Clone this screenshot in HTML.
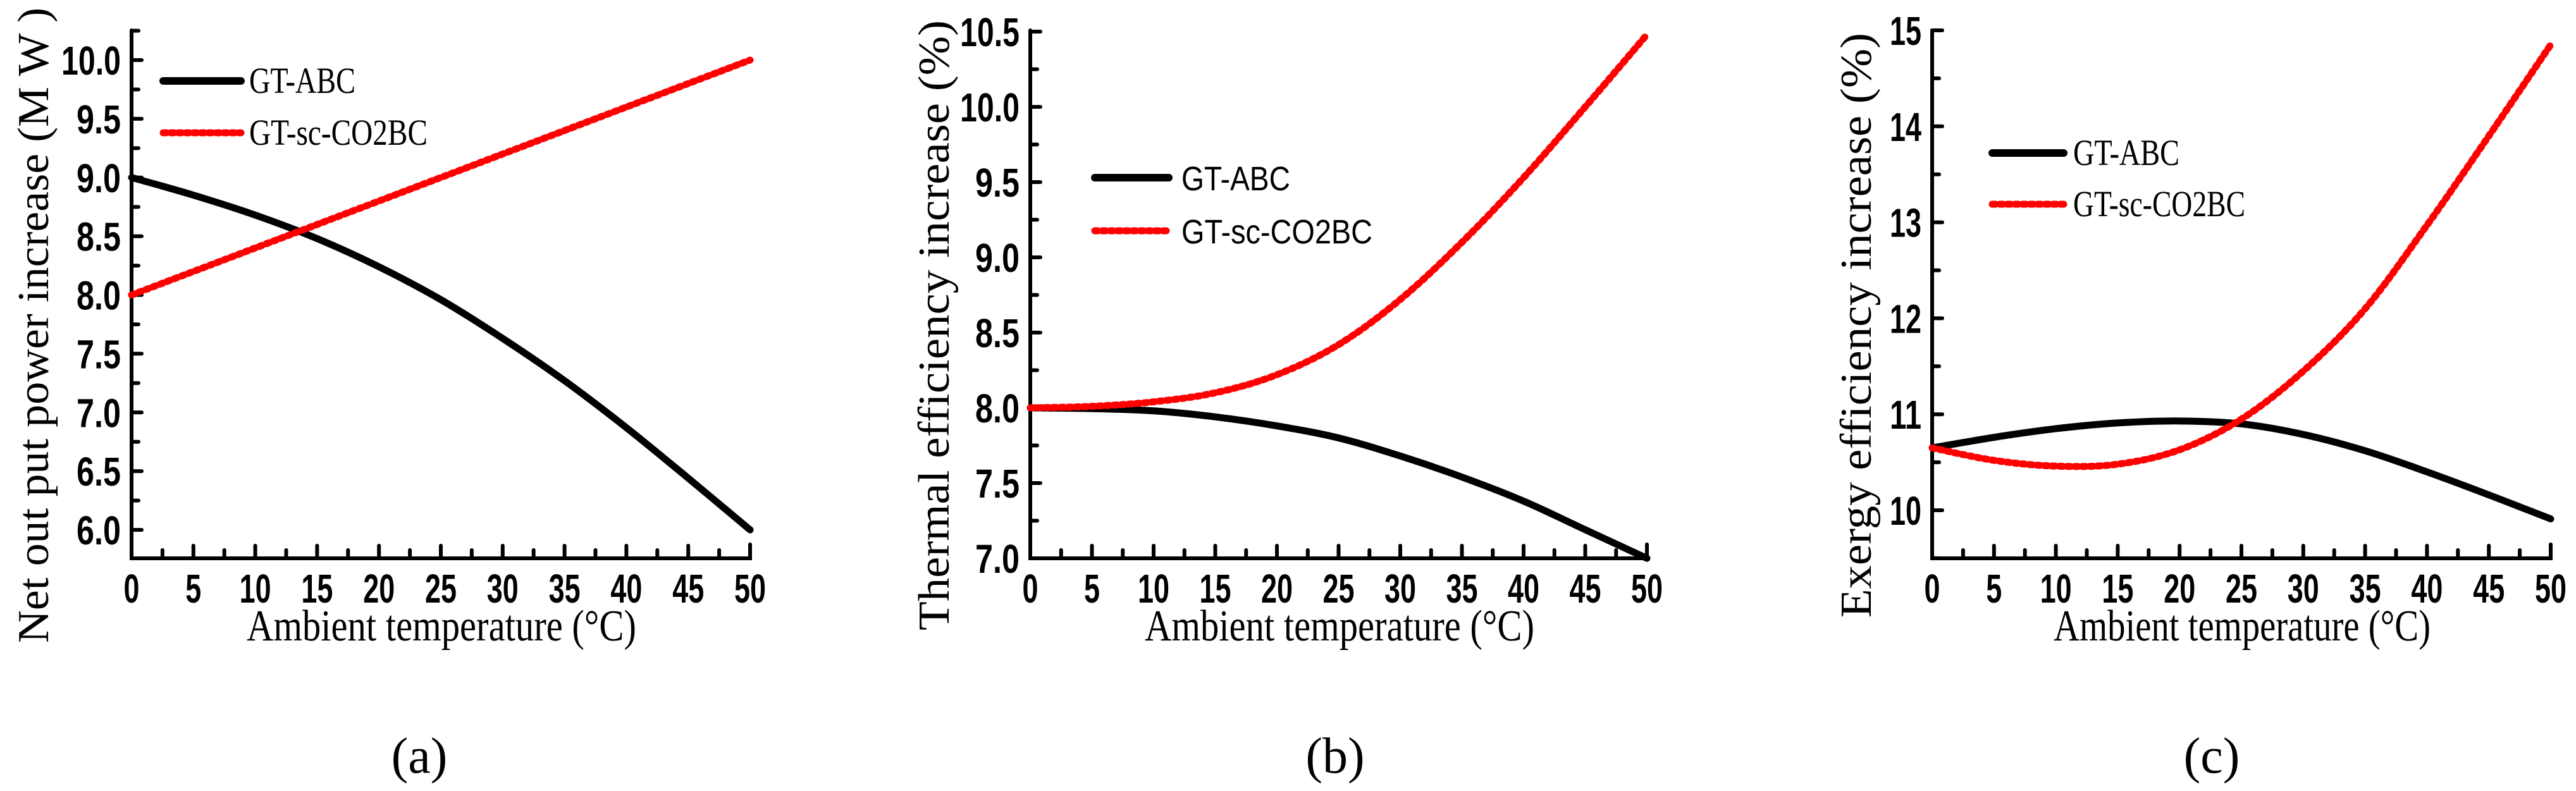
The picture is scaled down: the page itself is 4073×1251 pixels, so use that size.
<!DOCTYPE html>
<html><head><meta charset="utf-8"><style>
html,body{margin:0;padding:0;background:#fff;}
svg{display:block;}
</style></head><body>
<svg id="fig" xmlns="http://www.w3.org/2000/svg" width="4073" height="1251" viewBox="0 0 4073 1251"></svg>
<script>
// ---- data ----
const temps = [0,5,10,15,20,25,30,35,40,45,50];
const powerABC = [9.0,8.85,8.68,8.48,8.24,7.96,7.63,7.27,6.87,6.44,6.0];
const powerSC = [8.0,8.2,8.4,8.6,8.8,9.0,9.2,9.4,9.6,9.8,10.0];
const thermABC = [8.0,7.995,7.98,7.94,7.88,7.80,7.68,7.54,7.38,7.19,7.0];
const thermSC = [8.0,8.01,8.04,8.10,8.22,8.42,8.72,9.10,9.53,10.0,10.48];
const exergyABC = [10.65,10.76,10.85,10.91,10.93,10.90,10.79,10.62,10.40,10.16,9.91];
const exergySC = [10.65,10.52,10.46,10.48,10.63,10.95,11.45,12.10,12.97,13.90,14.85];
const xTicks = [0,5,10,15,20,25,30,35,40,45,50];
const yTicksA = ["6.0","6.5","7.0","7.5","8.0","8.5","9.0","9.5","10.0"];
const yTicksB = ["7.0","7.5","8.0","8.5","9.0","9.5","10.0","10.5"];
const yTicksC = ["10","11","12","13","14","15"];

const NS="http://www.w3.org/2000/svg";
const svg=document.getElementById('fig');
function mk(tag,attrs,parent){const e=document.createElementNS(NS,tag);for(const k in attrs)e.setAttribute(k,attrs[k]);(parent||svg).appendChild(e);return e;}

function smoothPath(pts){
  let d=`M${pts[0][0]},${pts[0][1]}`;
  for(let i=0;i<pts.length-1;i++){
    const p0=pts[Math.max(i-1,0)],p1=pts[i],p2=pts[i+1],p3=pts[Math.min(i+2,pts.length-1)];
    const c1=[p1[0]+(p2[0]-p0[0])/6,p1[1]+(p2[1]-p0[1])/6];
    const c2=[p2[0]-(p3[0]-p1[0])/6,p2[1]-(p3[1]-p1[1])/6];
    d+=` C${c1[0]},${c1[1]} ${c2[0]},${c2[1]} ${p2[0]},${p2[1]}`;
  }
  return d;
}

function panel(cfg){
  const g=mk('g',{});
  
  
  const X0=cfg.x0,X1=cfg.x1,Ytop=48,Ybot=883;
  const sx=v=>X0+(v-0)/50*(X1-X0);
  const sy=v=>cfg.yv0+(v-cfg.v0)/(cfg.v1-cfg.v0)*(cfg.yv1-cfg.yv0);
  // axes
  const ax=mk('path',{d:`M${X0},${Ytop} L${X0},${Ybot} L${X1},${Ybot} L${X1},${Ybot-22}`,fill:'none',stroke:'#000','stroke-width':6,'stroke-linecap':'round'},g);
  
  
  // x ticks
  for(let t=0;t<=50;t+=2.5){
    const maj=(t%5===0);
    mk('line',{x1:sx(t),y1:Ybot,x2:sx(t),y2:Ybot-(maj?20:13),stroke:'#000','stroke-width':6,'stroke-linecap':'round'},g);
  }
  xTicks.forEach(t=>{
    const s=String(t);
    const tx=mk('text',{x:sx(t),y:953,'text-anchor':'middle','font-family':'Liberation Sans, sans-serif','font-weight':'bold','font-size':64,textLength:s.length*25,lengthAdjust:'spacingAndGlyphs'},g);
    tx.textContent=s;
    
    
  });
  // y ticks
  cfg.yTicks.forEach(lbl=>{
    const v=parseFloat(lbl);
    mk('line',{x1:X0,y1:sy(v),x2:X0+16,y2:sy(v),stroke:'#000','stroke-width':6,'stroke-linecap':'round'},g);
    const tx=mk('text',{x:X0-17,y:sy(v)+23,'text-anchor':'end','font-family':'Liberation Sans, sans-serif','font-weight':'bold','font-size':64,textLength:lbl.length===4?94:(lbl.length===3?70:50),lengthAdjust:'spacingAndGlyphs'},g);
    tx.textContent=lbl;
    
    
  });
  cfg.minor.forEach(v=>{
    mk('line',{x1:X0,y1:sy(v),x2:X0+11,y2:sy(v),stroke:'#000','stroke-width':6,'stroke-linecap':'round'},g);
  });
  // series
  const ptsA=temps.map((t,i)=>[sx(t),sy(cfg.abc[i])]);
  const ptsS=temps.map((t,i)=>[sx(t),sy(cfg.sc[i])]);
  const la=mk('path',{d:smoothPath(ptsA),fill:'none',stroke:'#000','stroke-width':11,'stroke-linecap':'round'},g);
  
  
  const ls=mk('path',{d:smoothPath(ptsS),fill:'none',stroke:'#ff0000','stroke-width':11,'stroke-linecap':'round','stroke-dasharray':'5 7'},g);
  
  
  // legend
  const L=cfg.leg;
  const lg=mk('g',{},g);
  
  
  mk('line',{x1:L.x1,y1:L.y1,x2:L.x2,y2:L.y1,stroke:'#000','stroke-width':12,'stroke-linecap':'round'},lg);
  mk('line',{x1:L.x1,y1:L.y2,x2:L.x2,y2:L.y2,stroke:'#ff0000','stroke-width':11,'stroke-linecap':'round','stroke-dasharray':'5 7'},lg);
  const t1=mk('text',{x:L.tx,y:L.y1+L.off,'font-family':L.font,'font-size':L.fs,textLength:L.w1,lengthAdjust:'spacingAndGlyphs'},lg);
  t1.textContent='GT-ABC';
  
  
  const t2=mk('text',{x:L.tx,y:L.y2+L.off,'font-family':L.font,'font-size':L.fs,textLength:L.w2,lengthAdjust:'spacingAndGlyphs'},lg);
  t2.textContent='GT-sc-CO2BC';
  
  
  // x title
  const xt=mk('text',{x:cfg.xt[0],y:1013,'font-family':'Liberation Serif, serif','font-size':70,textLength:cfg.xt[1]-cfg.xt[0],lengthAdjust:'spacingAndGlyphs'},g);
  xt.textContent='Ambient temperature (°C)';
  
  
  // y title
  const yt=mk('text',{x:0,y:0,transform:`translate(${cfg.yt[0]},${cfg.yt[2]}) rotate(-90)`,'font-family':'Liberation Serif, serif','font-size':70,textLength:cfg.yt[2]-cfg.yt[1],lengthAdjust:'spacingAndGlyphs'},g);
  yt.textContent=cfg.ytitle;
  
  
  // panel label
  const pl=mk('text',{x:cfg.pl,y:1222,'text-anchor':'middle','font-family':'Liberation Serif, serif','font-size':80},g);
  pl.textContent=cfg.plabel;
  
  
}

panel({name:'panel-a-net-output-power',x0:208,x1:1186,v0:6,v1:10,yv0:838,yv1:95,yTicks:yTicksA,
  minor:[6.25,6.75,7.25,7.75,8.25,8.75,9.25,9.75,10.25],abc:powerABC,sc:powerSC,
  leg:{x1:258,x2:381,y1:128,y2:210,tx:394,off:19,font:'Liberation Serif, serif',fs:58,w1:168,w2:282},
  xt:[390,1006],yt:[76,12,1017],ytitle:'Net out put power increase (M W )',pl:663,plabel:'(a)'});
panel({name:'panel-b-thermal-efficiency',x0:1629,x1:2604,v0:7,v1:10.5,yv0:883,yv1:50,yTicks:yTicksB,
  minor:[7.25,7.75,8.25,8.75,9.25,9.75,10.25],abc:thermABC,sc:thermSC,
  leg:{x1:1731,x2:1848,y1:281,y2:365,tx:1868,off:20,font:'Liberation Sans, sans-serif',fs:54,w1:172,w2:302},
  xt:[1810,2426],yt:[1500,32,997],ytitle:'Thermal efficiency increase (%)',pl:2111,plabel:'(b)'});
panel({name:'panel-c-exergy-efficiency',x0:3055,x1:4033,v0:10,v1:15,yv0:807,yv1:48,yTicks:yTicksC,
  minor:[9.5,10.5,11.5,12.5,13.5,14.5],abc:exergyABC,sc:exergySC,
  leg:{x1:3150,x2:3263,y1:242,y2:323,tx:3278,off:19,font:'Liberation Serif, serif',fs:58,w1:168,w2:272},
  xt:[3247,3843],yt:[2958,52,977],ytitle:'Exergy efficiency increase (%)',pl:3497,plabel:'(c)'});
</script>
</body></html>
